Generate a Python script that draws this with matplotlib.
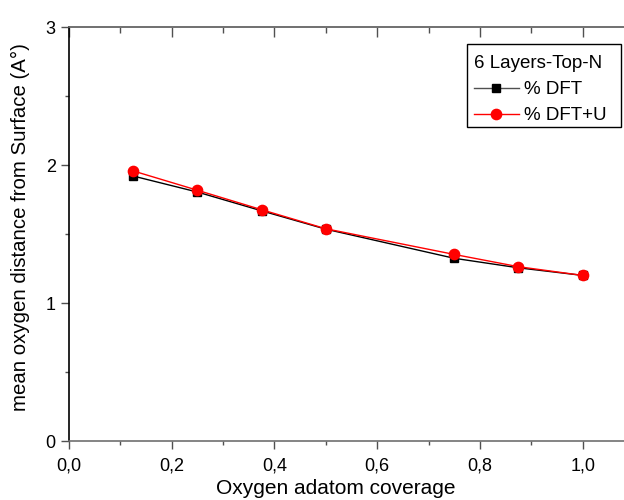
import matplotlib
matplotlib.use("Agg")
import matplotlib.pyplot as plt
from matplotlib.ticker import MultipleLocator, FuncFormatter
from matplotlib.lines import Line2D
from matplotlib.patches import Rectangle

plt.rcParams['font.family'] = ['Liberation Sans', 'DejaVu Sans']

coverage = [0.125, 0.25, 0.375, 0.5, 0.75, 0.875, 1.0]
dist_dft = [1.92, 1.804, 1.668, 1.535, 1.324, 1.255, 1.20]
dist_dftu = [1.957, 1.817, 1.676, 1.538, 1.352, 1.263, 1.20]

W, H = 624, 500
fig = plt.figure(figsize=(W / 100, H / 100), dpi=100)
ax = fig.add_axes([69 / W, 59 / H, 565 / W, 414 / H])

ax.plot(coverage, dist_dft, color='black', lw=1.0, marker='s', ms=5.8,
        mfc='black', mec='black', label='% DFT')
ax.plot(coverage, dist_dftu, color='red', lw=1.0, marker='o', ms=7.4,
        mfc='red', mec='red', label='% DFT+U')

ax.set_xlim(0, 1.1)
ax.set_ylim(0, 3)
ax.xaxis.set_major_locator(MultipleLocator(0.2))
ax.xaxis.set_minor_locator(MultipleLocator(0.1))
ax.yaxis.set_major_locator(MultipleLocator(1))
ax.yaxis.set_minor_locator(MultipleLocator(0.5))
ax.xaxis.set_major_formatter(FuncFormatter(lambda v, p: f"{v:.1f}".replace('.', ',')))
ax.yaxis.set_major_formatter(FuncFormatter(lambda v, p: f"{v:.0f}"))

ax.spines['right'].set_visible(False)
ax.spines['left'].set_color('black')
ax.spines['top'].set_color('#707070')
ax.spines['bottom'].set_color('#707070')
for s in ax.spines.values():
    s.set_linewidth(1.2)

ax.tick_params(axis='both', which='major', length=6, width=1, labelsize=13,
               direction='out', color='#505050')
ax.tick_params(axis='both', which='minor', length=3, width=1,
               direction='out', color='#505050')
ax.tick_params(axis='x', which='major', pad=6)

# Top axis: ticks pointing into the plot, no labels
top = ax.secondary_xaxis('top')
top.xaxis.set_major_locator(MultipleLocator(0.2))
top.xaxis.set_minor_locator(MultipleLocator(0.1))
top.tick_params(which='major', direction='in', length=7, width=1,
                color='#505050', labeltop=False)
top.tick_params(which='minor', direction='in', length=4, width=1,
                color='#505050')
top.spines['top'].set_color('#707070')
top.spines['top'].set_linewidth(1.2)

ax.set_xlabel('Oxygen adatom coverage', fontsize=15)
ax.xaxis.set_label_coords(336 / W, 2 / H, transform=fig.transFigure)
ax.xaxis.label.set_va('bottom')
ax.set_ylabel('mean oxygen distance from Surface (A°)', fontsize=14.7)
ax.yaxis.set_label_coords(20 / W, 1 - 227 / H, transform=fig.transFigure)
ax.yaxis.label.set_va('center')

# Legend box drawn as its own frame around the entries
fig.add_artist(Rectangle((467 / W, 1 - 127 / H), 154 / W, 83 / H,
                         transform=fig.transFigure, fill=False,
                         edgecolor='black', lw=1.0, zorder=5))

handles = [
    Line2D([], [], color='#505050', lw=1.0, marker='s', ms=5.8,
           mfc='black', mec='black'),
    Line2D([], [], color='red', lw=1.0, marker='o', ms=7.4,
           mfc='red', mec='red'),
]
leg = ax.legend(handles, ['% DFT', '% DFT+U'], title='6 Layers-Top-N',
                loc='upper left', bbox_to_anchor=(473.5 / W, 1 - 55 / H),
                bbox_transform=fig.transFigure, fontsize=13.5,
                title_fontsize=13.5, frameon=False,
                handlelength=2.4, handletextpad=0.27,
                borderpad=0, labelspacing=0.48, borderaxespad=0)
leg._legend_box.align = 'left'

fig.savefig('out.png', dpi=100)
